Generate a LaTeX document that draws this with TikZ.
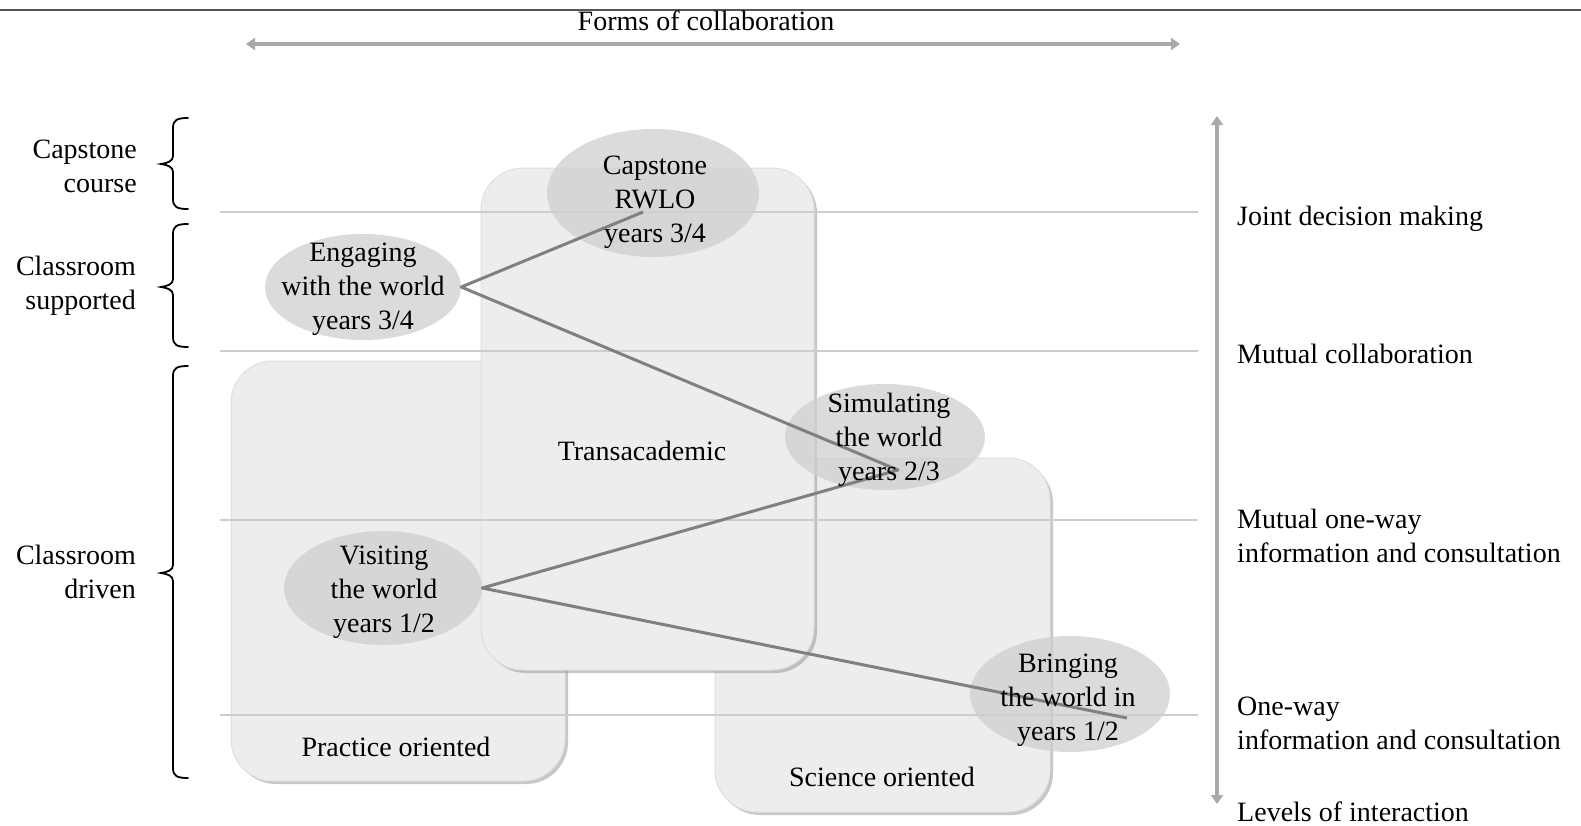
\documentclass[tikz,border=0pt]{standalone}
\usepackage{fontspec}
\setmainfont{Liberation Serif}
\usetikzlibrary{shapes.geometric,arrows.meta,shadows}
\definecolor{boxgray}{HTML}{EDEDED}
\definecolor{ellgray}{HTML}{CFCFCF}
\definecolor{linkgray}{HTML}{808080}
\definecolor{sepgray}{HTML}{CDCDCD}
\definecolor{arrgray}{HTML}{A8A8A8}
\definecolor{topgray}{HTML}{555555}
\begin{document}
\begin{tikzpicture}[x=1pt,y=-1pt,
  font=\fontsize{28}{34}\selectfont,
  boxnode/.style={rectangle, rounded corners=42pt, fill=boxgray, draw=gray!25, line width=1pt, inner sep=0pt,
    drop shadow={shadow xshift=3pt, shadow yshift=-3pt, fill=gray!80, opacity=0.55}},
  ellip/.style={ellipse, fill=ellgray, fill opacity=0.75, inner sep=0pt},
  etext/.style={inner sep=0pt, align=center},
  link/.style={draw=linkgray, line width=3pt},
  sep/.style={draw=sepgray, line width=1.8pt},
  axis/.style={draw=arrgray, line width=4pt, {Triangle[length=9pt,width=12pt]}-{Triangle[length=9pt,width=12pt]}},
  bracestyle/.style={draw=black, line width=1.8pt, line cap=round},
  lbl/.style={inner sep=0pt, align=right},
  rlbl/.style={inner sep=0pt, anchor=west, align=left},
  txt/.style={inner sep=0pt}
]
\useasboundingbox (0,0) rectangle (1581,825);

% top rule and horizontal axis
\coordinate (tl) at (0,10);
\coordinate (tr) at (1581,10);
\draw[draw=topgray, line width=1.5pt] (tl) -- (tr);
\node[txt] (forms) at (706,21) {Forms of collaboration};
\coordinate (hl) at (246,44);
\coordinate (hr) at (1180,44);
\draw[axis] (hl) -- (hr);

% vertical axis
\coordinate (vt) at (1217,116);
\coordinate (vb) at (1217,804);
\draw[axis] (vt) -- (vb);

% boxes
\node[boxnode, minimum width=335pt, minimum height=354pt] (sci) at (882.5,635) {};
\node[boxnode, minimum width=334pt, minimum height=420pt] (prac) at (398,571) {};
\node[boxnode, minimum width=333pt, minimum height=502pt] (trans) at (647.5,419) {};
\node[txt] (pracl) at (396,747) {Practice oriented};
\node[txt] (transl) at (642,451) {Transacademic};
\node[txt] (scil) at (882,777) {Science oriented};

% separators
\coordinate (s1l) at (220,212); \coordinate (s1r) at (1198,212);
\coordinate (s2l) at (220,351); \coordinate (s2r) at (1198,351);
\coordinate (s3l) at (220,520); \coordinate (s3r) at (1198,520);
\coordinate (s4l) at (220,715); \coordinate (s4r) at (1198,715);
\draw[sep] (s1l) -- (s1r);
\draw[sep] (s2l) -- (s2r);
\draw[sep] (s3l) -- (s3r);
\draw[sep] (s4l) -- (s4r);

% ellipses
\node[ellip, minimum width=212pt, minimum height=128pt] (cap) at (653,193) {};
\node[ellip, minimum width=196pt, minimum height=106pt] (eng) at (363,287) {};
\node[ellip, minimum width=200pt, minimum height=106pt] (sim) at (885,437) {};
\node[ellip, minimum width=198pt, minimum height=114pt] (vis) at (383,588) {};
\node[ellip, minimum width=200pt, minimum height=116pt] (bri) at (1070,694) {};

% connectors
\coordinate (capin) at (643,212);
\coordinate (simin) at (898,470);
\coordinate (briin) at (1127,718);
\draw[link, line join=round] (capin) -- (eng.east) -- (simin) -- (vis.east) -- (briin);

% ellipse texts
\node[etext] (capt) at (655,202) {Capstone\\RWLO\\years 3/4};
\node[etext] (engt) at (363,289) {Engaging\\with the world\\years 3/4};
\node[etext] (simt) at (889,440) {Simulating\\the world\\years 2/3};
\node[etext] (vist) at (384,592) {Visiting\\the world\\years 1/2};
\node[etext] (brit) at (1068,700) {Bringing\\the world in\\years 1/2};

% left braces and labels
\draw[bracestyle] (188,118) .. controls (177,118) and (173,120) .. (173,128) -- (173,156)
  .. controls (173,161) and (168,163) .. (161,164) .. controls (168,165) and (173,167) .. (173,172)
  -- (173,199) .. controls (173,207) and (177,209) .. (188,209);
\draw[bracestyle] (188,224) .. controls (177,224) and (173,226) .. (173,234) -- (173,279)
  .. controls (173,284) and (168,286) .. (161,287) .. controls (168,288) and (173,290) .. (173,295)
  -- (173,337) .. controls (173,345) and (177,347) .. (188,347);
\draw[bracestyle] (188,366) .. controls (177,366) and (173,368) .. (173,376) -- (173,565)
  .. controls (173,570) and (168,572) .. (161,573) .. controls (168,574) and (173,576) .. (173,581)
  -- (173,768) .. controls (173,776) and (177,778) .. (188,778);
\node[lbl, anchor=east] (capc) at (137,166) {Capstone\\course};
\node[lbl, anchor=east] (csup) at (136,286) {Classroom\\supported};
\node[lbl, anchor=east] (cdrv) at (136,572) {Classroom\\driven};

% right labels
\node[rlbl] (jdm) at (1237,219) {Joint decision making};
\node[rlbl] (mc) at (1237,354) {Mutual collaboration};
\node[rlbl] (mow) at (1237,536) {Mutual one-way\\information and consultation};
\node[rlbl] (ow) at (1237,723) {One-way\\information and consultation};
\node[rlbl] (loi) at (1237,812) {Levels of interaction};
\end{tikzpicture}
\end{document}
